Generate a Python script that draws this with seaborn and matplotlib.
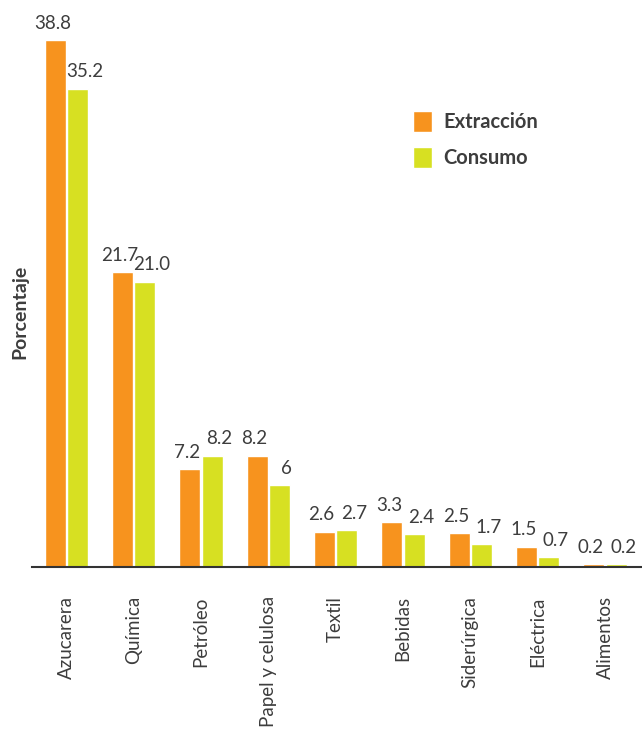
import pandas as pd
import matplotlib
matplotlib.use("Agg")
import matplotlib.pyplot as plt
import seaborn as sns

# Data
sectores = ["Azucarera", "Química", "Petróleo", "Papel y celulosa", "Textil",
            "Bebidas", "Siderúrgica", "Eléctrica", "Alimentos"]
extraccion = [38.8, 21.7, 7.2, 8.2, 2.6, 3.3, 2.5, 1.5, 0.2]
consumo = [35.2, 21.0, 8.2, 6.0, 2.7, 2.4, 1.7, 0.7, 0.2]
extraccion_txt = ["38.8", "21.7", "7.2", "8.2", "2.6", "3.3", "2.5", "1.5", "0.2"]
consumo_txt = ["35.2", "21.0", "8.2", "6", "2.7", "2.4", "1.7", "0.7", "0.2"]
series = ["Extracción", "Consumo"]
colores = ["#F7931E", "#D7E022"]

df = pd.DataFrame({
    "sector": sectores * 2,
    "serie": [series[0]] * len(sectores) + [series[1]] * len(sectores),
    "valor": extraccion + consumo,
})

sns.set_style("white")
plt.rcParams["font.family"] = ["Lato", "DejaVu Sans"]
txt = "#3d3d3d"

fig = plt.figure(figsize=(6.42, 7.38), dpi=100)
ax = fig.add_axes([32 / 642, 171 / 738, 610 / 642, 557 / 738])

sns.barplot(data=df, x="sector", y="valor", hue="serie", order=sectores,
            hue_order=series, palette=colores, width=0.67, gap=0.07,
            saturation=1, ax=ax, legend=True)

# value labels, nudged apart a little like the original
for cont, labs, dx in zip(ax.containers, [extraccion_txt, consumo_txt], [-2.0, 5.0]):
    anns = ax.bar_label(cont, labels=labs, padding=6, fontsize=13.5, color=txt)
    for a in anns:
        a.xyann = (dx, 6)

ax.set_xlim(-0.51, 8.55)
ax.set_ylim(0, 41)
ax.set_yticks([])
ax.set_xlabel("")
ax.set_ylabel("Porcentaje", fontsize=14, fontweight="bold", color=txt)
ax.yaxis.set_label_coords(-0.006, (567 - 312) / 557)
ax.tick_params(axis="x", length=0, pad=21, labelsize=13.5, labelcolor=txt)
plt.setp(ax.get_xticklabels(), rotation=90, va="top", ha="center")

for s in ["top", "right", "left"]:
    ax.spines[s].set_visible(False)
ax.spines["bottom"].set_color("#333333")
ax.spines["bottom"].set_linewidth(1.5)

leg = ax.legend(loc="upper left", bbox_to_anchor=((405 - 32) / 610, 1 - 93 / 557),
                frameon=False, handlelength=0.95, handleheight=1.25, labelspacing=0.72,
                handletextpad=0.55, fontsize=14.5, borderaxespad=0)
for t in leg.get_texts():
    t.set_fontweight("bold")
    t.set_color(txt)

fig.savefig("out.png", dpi=100)
